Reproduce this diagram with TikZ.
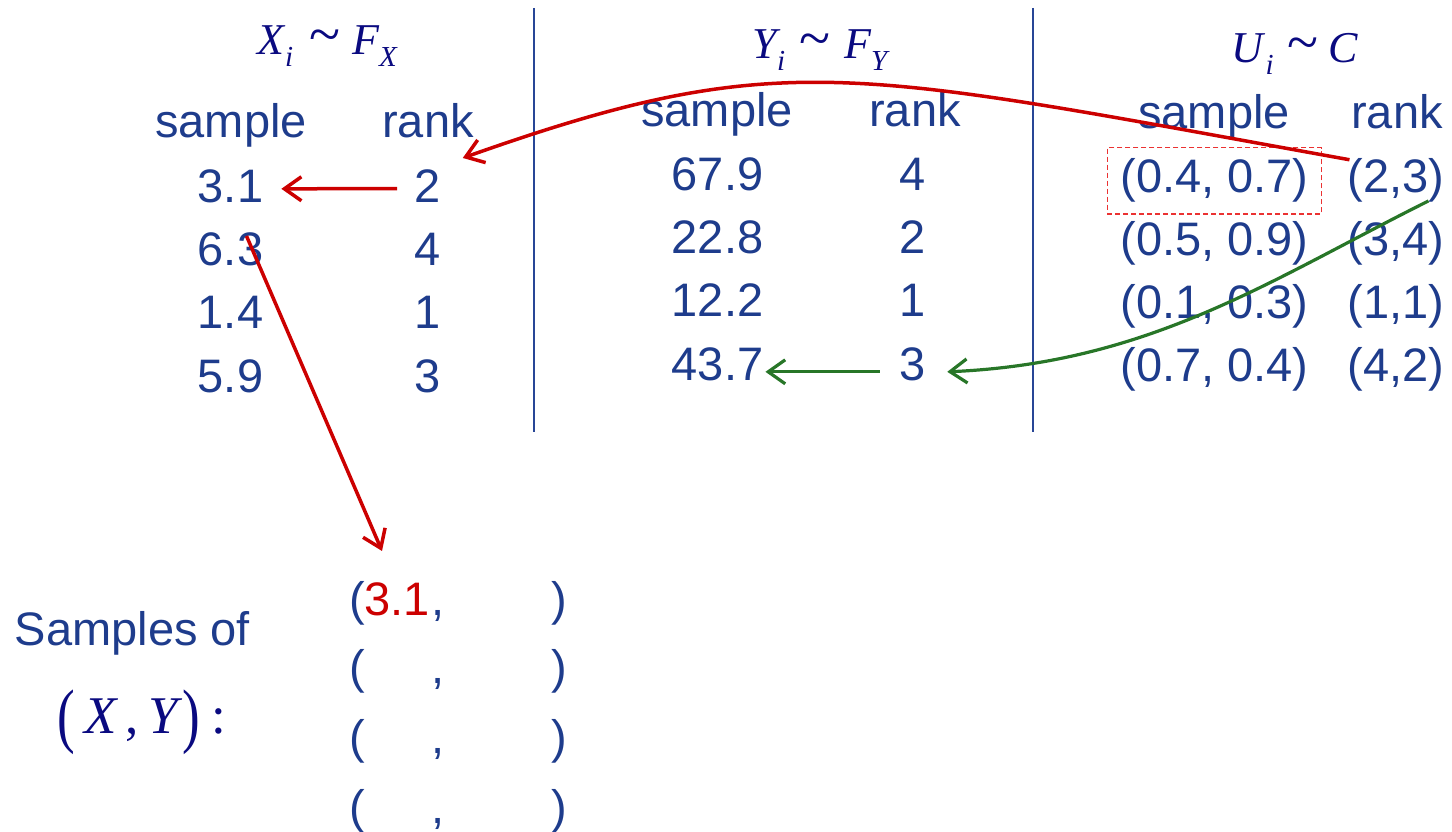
\documentclass[tikz,border=0pt]{standalone}
\usepackage{fontspec}
\setmainfont{Liberation Sans}
\newfontfamily\mserif{Liberation Serif}
\usetikzlibrary{arrows.meta,fit}
\definecolor{tblue}{RGB}{30,60,140}
\definecolor{mnavy}{RGB}{10,10,128}
\definecolor{ared}{RGB}{204,0,0}
\definecolor{agreen}{RGB}{40,118,40}
\definecolor{dred}{RGB}{235,50,50}
\definecolor{vblue}{RGB}{40,70,150}
\newcommand\mv[1]{{\mserif\itshape #1}}
\newcommand\ms[1]{\raisebox{-12pt}{\fontsize{29}{29}\selectfont\mserif\itshape #1}}
\newcommand\mtil{\raisebox{1pt}{\scalebox{1.3}{\mserif\char"007E}}}
\begin{document}
\begin{tikzpicture}[x=1pt,y=-1pt,
  txt/.style={font=\fontsize{47}{56}\selectfont, text=tblue, inner sep=0pt, anchor=base},
  ttl/.style={font=\fontsize{44}{50}\selectfont, text=mnavy, inner sep=0pt, anchor=base},
  redarrow/.style={draw=ared, line width=3.5pt, -{Straight Barb[length=17pt,width=24pt]}},
  greenarrow/.style={draw=agreen, line width=3.2pt, -{Straight Barb[length=17pt,width=24pt]}},
  vline/.style={draw=vblue, line width=1.2pt},
  dashbox/.style={draw=dred, line width=1.3pt, dash pattern=on 5pt off 3pt, inner xsep=13pt, inner ysep=11pt}
]
\useasboundingbox (0,0) rectangle (1452,832);

% separators
\draw[vline] (534,8) -- (534,432);
\draw[vline] (1033,8) -- (1033,432);

% titles
\node[ttl] (t1) at (327,55) {\mv{X}\kern1pt\ms{i}\hspace{16pt}\mtil\hspace{12pt}\mv{F}\ms{X}};
\node[ttl] (t2) at (820,59) {\mv{Y}\ms{i}\hspace{14pt}\mtil\hspace{14pt}\mv{F}\ms{Y}};
\node[ttl] (t3) at (1295,63) {\mv{U}\kern2pt\ms{i}\hspace{14pt}\mtil\hspace{10pt}\mv{C}};

% column 1
\node[txt] (h1s) at (231,138) {sample};
\node[txt] (h1r) at (428,138) {rank};
\node[txt] (x1s) at (230.5,202) {3.1};
\node[txt] (x2s) at (230.5,265) {6.3};
\node[txt] (x3s) at (230.5,328) {1.4};
\node[txt] (x4s) at (230.5,392) {5.9};
\node[txt] (x1r) at (427.5,202) {2};
\node[txt] (x2r) at (427.5,265) {4};
\node[txt] (x3r) at (427.5,328) {1};
\node[txt] (x4r) at (427.5,392) {3};

% column 2
\node[txt] (h2s) at (717,127) {sample};
\node[txt] (h2r) at (915,127) {rank};
\node[txt] (y1s) at (717.5,191) {67.9};
\node[txt] (y2s) at (717.5,253) {22.8};
\node[txt] (y3s) at (717.5,316) {12.2};
\node[txt] (y4s) at (717.5,380) {43.7};
\node[txt] (y1r) at (913,191) {4};
\node[txt] (y2r) at (913,253) {2};
\node[txt] (y3r) at (913,316) {1};
\node[txt] (y4r) at (913,380) {3};

% column 3
\node[txt] (h3s) at (1214,129) {sample};
\node[txt] (h3r) at (1397,129) {rank};
\node[txt] (u1s) at (1214.5,193) {(0.4, 0.7)};
\node[txt] (u2s) at (1214.5,255) {(0.5, 0.9)};
\node[txt] (u3s) at (1214.5,318) {(0.1, 0.3)};
\node[txt] (u4s) at (1214.5,381) {(0.7, 0.4)};
\node[txt] (u1r) at (1396,193) {(2,3)};
\node[txt] (u2r) at (1396,255) {(3,4)};
\node[txt] (u3r) at (1396,318) {(1,1)};
\node[txt] (u4r) at (1396,381) {(4,2)};
\node[dashbox, fit=(u1s)] (box) {};

% bottom
\node[txt] (sof) at (132.5,645) {Samples of};
\node[inner sep=0pt, anchor=base, text=mnavy, font=\fontsize{53}{60}\selectfont\mserif] (xy) at (142,733)
  {\raisebox{-6pt}{\scalebox{1}[1.35]{(}}\hspace{9pt}\mv{X}\hspace{9pt},\hspace{9pt}\mv{Y}\hspace{5pt}\raisebox{-6pt}{\scalebox{1}[1.35]{)}}\hspace{11pt}:};

\node[txt] (lp1) at (357.5,615) {(};
\node[txt] (lp2) at (357.5,683) {(};
\node[txt] (lp3) at (357.5,753) {(};
\node[txt] (lp4) at (357.5,823) {(};
\node[txt, text=ared] (s1) at (397,615) {3.1};
\node[txt] (cm1) at (438.5,615) {,};
\node[txt] (cm2) at (438.5,683) {,};
\node[txt] (cm3) at (438.5,753) {,};
\node[txt] (cm4) at (438.5,823) {,};
\node[txt] (rp1) at (559,615) {)};
\node[txt] (rp2) at (559,683) {)};
\node[txt] (rp3) at (559,753) {)};
\node[txt] (rp4) at (559,823) {)};

% connectors
\draw[redarrow] ([xshift=-17pt,yshift=-3pt]x1r.west) -- ([xshift=18pt,yshift=-3pt]x1s.east);
\draw[redarrow] ([xshift=2pt,yshift=-1pt]u1r.north west) .. controls (851,70) and (782,45) .. ([xshift=22pt,yshift=11pt]x1r.north east);
\draw[redarrow] ([xshift=16pt,yshift=-4pt]x2s.north) -- ([xshift=-15pt,yshift=31pt]s1.north);
\draw[greenarrow] ([xshift=-16pt,yshift=2pt]u1r.south east) .. controls (1270,280) and (1150,363) .. ([xshift=21pt,yshift=-8pt]y4r.east);
\draw[greenarrow] ([xshift=-20pt,yshift=-8pt]y4r.west) -- ([xshift=2pt,yshift=-8pt]y4s.east);
\end{tikzpicture}
\end{document}
